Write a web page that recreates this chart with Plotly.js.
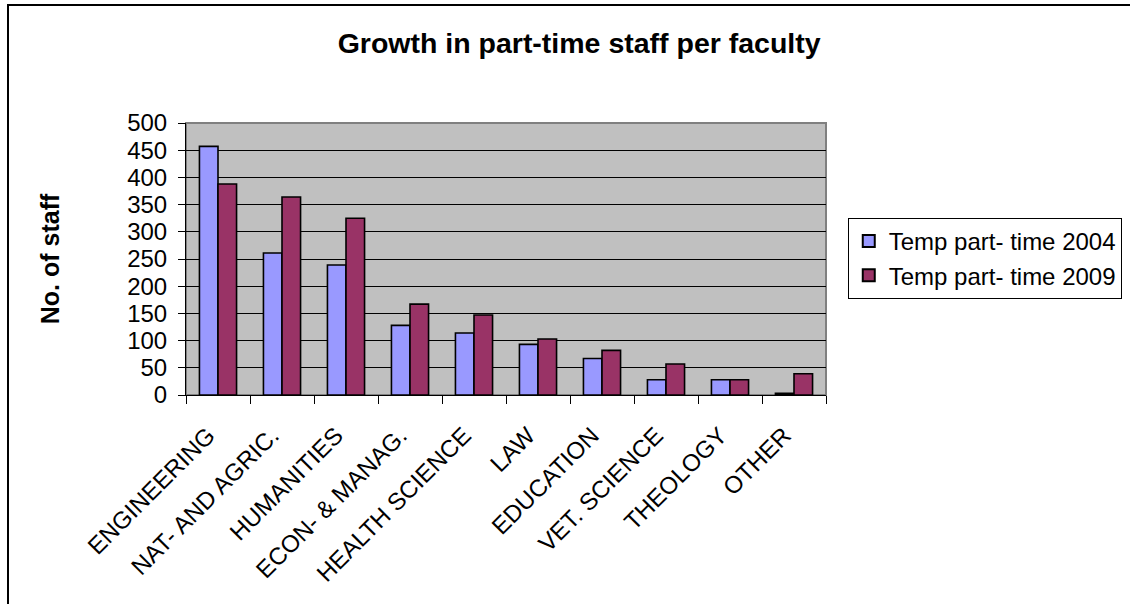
<!DOCTYPE html>
<html>
<head>
<meta charset="utf-8">
<script src="https://cdn.plot.ly/plotly-3.0.1.min.js"></script>
<style>
html,body{margin:0;padding:0;background:#fff;overflow:hidden;}
#frame{position:absolute;left:7px;top:4px;width:1200px;height:700px;border-left:2px solid #000;border-top:2px solid #000;pointer-events:none;z-index:5;}
#chart{position:absolute;left:0;top:0;width:1130px;height:604px;}
</style>
</head>
<body>
<div id="chart"></div>
<div id="frame"></div>
<script>
const categories = ["ENGINEERING","NAT- AND AGRIC.","HUMANITIES","ECON- & MANAG.","HEALTH SCIENCE","LAW","EDUCATION","VET. SCIENCE","THEOLOGY","OTHER"];
const staff2004 = [457, 261, 239, 128, 114, 93, 67, 28, 28, 3];
const staff2009 = [388, 364, 325, 167, 147, 103, 82, 57, 28, 39];
const seriesNames = ["Temp part- time 2004", "Temp part- time 2009"];
const yTicks = [0,50,100,150,200,250,300,350,400,450,500];

const font = "Arial, 'Liberation Sans', sans-serif";

const traces = [
  {type:"bar", name:seriesNames[0], x:categories, y:staff2004,
   marker:{color:"#9999FF", line:{color:"#000", width:1.6}}},
  {type:"bar", name:seriesNames[1], x:categories, y:staff2009,
   marker:{color:"#993366", line:{color:"#000", width:1.6}}}
];

const layout = {
  width:1130, height:604,
  margin:{l:186, r:304, t:123, b:209, autoexpand:false},
  paper_bgcolor:"rgba(0,0,0,0)",
  plot_bgcolor:"#C0C0C0",
  barmode:"group", bargap:0.42, bargroupgap:0,
  font:{family:font, color:"#000", size:24},
  title:{text:"<b>Growth in part-time staff per faculty</b>", x:0.5125, xanchor:"center", y:0.929, yanchor:"middle", yref:"container",
         font:{family:font, size:28.5, color:"#000"}},
  xaxis:{type:"category", tickangle:-45, ticks:"outside", ticklen:8, tickcolor:"#000", tickson:"boundaries",
         showline:true, linecolor:"#000", linewidth:1, showgrid:false, tickfont:{size:24}, automargin:false,
         ticklabelstandoff:16, ticklabelshift:-10},
  yaxis:{range:[0,500], tickvals:yTicks, ticks:"outside", ticklen:7, tickcolor:"#000",
         showline:true, linecolor:"#000", linewidth:1, showgrid:true, gridcolor:"#000", gridwidth:1,
         zeroline:false, tickfont:{size:24}, ticklabelstandoff:6, automargin:false,
         title:{text:"<b>No. of staff</b>", font:{size:25}, standoff:60}},
  legend:{x:1.034, xanchor:"left", y:0.651, yanchor:"top", bgcolor:"#fff", bordercolor:"#000", borderwidth:1,
          font:{size:24}, tracegroupgap:0, itemsizing:"constant"},
  shapes:[{type:"rect", xref:"paper", yref:"paper", x0:0, x1:1, y0:0, y1:1, line:{color:"#808080", width:2}, layer:"below", fillcolor:"rgba(0,0,0,0)"}],
  showlegend:true
};

Plotly.newPlot("chart", traces, layout, {displayModeBar:false, staticPlot:true});
</script>
</body>
</html>
